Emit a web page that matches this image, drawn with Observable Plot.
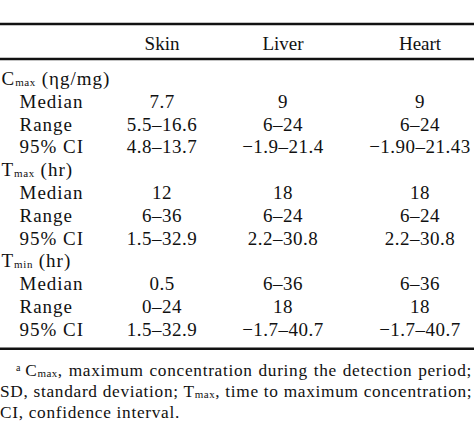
<!DOCTYPE html>
<html>
<head>
<meta charset="utf-8">
<script src="https://cdn.jsdelivr.net/npm/d3@7"></script>
<script src="https://cdn.jsdelivr.net/npm/@observablehq/plot@0.6"></script>
<style>
  html, body { margin: 0; padding: 0; background: #fff; }
  #wrap { width: 474px; background: #fff; color: #111; }
  #wrap svg { display: block; }
  .fn { font-family: "Liberation Serif", "Times New Roman", serif; font-size: 17.3px; letter-spacing: 0.7px;
        line-height: 21px; color: #111; width: 472px; }
  .fn div { text-align: justify; text-align-last: justify; white-space: nowrap; }
  .fn div.last { text-align-last: left; }
  .fn .sub { font-size: 11px; vertical-align: -1px; line-height: 0; letter-spacing: 0.5px; }
  .fn .sup { font-size: 10px; vertical-align: 5px; line-height: 0; margin-right: 4px; }
</style>
</head>
<body>
<div id="wrap"></div>
<script>
// ---- data ----
const columns = ["Skin", "Liver", "Heart"];
const groups = ["Cmax (ηg/mg)", "Tmax (hr)", "Tmin (hr)"];
const stats = ["Median", "Range", "95% CI"];
const skin  = ["7.7", "5.5–16.6", "4.8–13.7", "12", "6–36", "1.5–32.9", "0.5", "0–24", "1.5–32.9"];
const liver = ["9", "6–24", "−1.9–21.4", "18", "6–24", "2.2–30.8", "6–36", "18", "−1.7–40.7"];
const heart = ["9", "6–24", "−1.90–21.43", "18", "6–24", "2.2–30.8", "6–36", "18", "−1.7–40.7"];
const footnoteMark = "a";
const footnoteLines = [
  "Cmax, maximum concentration during the detection period;",
  "SD, standard deviation; Tmax, time to maximum concentration;",
  "CI, confidence interval."
];

// ---- layout ----
const W = 474, H = 356;
const colCenter = [161.5, 282.5, 419.5];
const groupX = 1, statX = 19;
const headerBase = 49.5, firstBase = 84.5, rowStep = 22.8;
const rowY = i => firstBase + i * rowStep;
const values = [skin, liver, heart];

const labelRows = [];
const cellRows = [];
groups.forEach((g, gi) => {
  labelRows.push({x: groupX, y: rowY(gi * 4), text: g});
  stats.forEach((s, si) => {
    const r = gi * 4 + si + 1;
    labelRows.push({x: statX, y: rowY(r), text: s});
    values.forEach((col, ci) => cellRows.push({x: colCenter[ci], y: rowY(r), text: col[gi * 3 + si]}));
  });
});
const headerRows = columns.map((c, ci) => ({x: colCenter[ci], y: headerBase, text: c}));
const nRows = groups.length * 4;
const rules = [headerBase - 26, headerBase + 9, rowY(nRows - 1) + 13];

const font = "'Liberation Serif', 'Times New Roman', serif";
const svg = Plot.plot({
  width: W, height: H,
  margin: 0,
  x: {type: "linear", domain: [0, W], range: [0, W], axis: null},
  y: {type: "linear", domain: [0, H], range: [0, H], axis: null},
  style: {fontFamily: font, background: "#fff", color: "#111"},
  marks: [
    Plot.ruleY(rules, {x1: 0, x2: W, strokeWidth: 2.6, stroke: "#111"}),
    Plot.text(headerRows, {x: "x", y: "y", text: "text", textAnchor: "middle", lineAnchor: "bottom", fontSize: 19, className: "hdr"}),
    Plot.text(labelRows, {x: "x", y: "y", text: "text", textAnchor: "start", lineAnchor: "bottom", fontSize: 19, className: "lbl"}),
    Plot.text(cellRows, {x: "x", y: "y", text: "text", textAnchor: "middle", lineAnchor: "bottom", fontSize: 19, className: "val"})
  ]
});
svg.querySelectorAll("g.lbl").forEach(g => g.setAttribute("letter-spacing", "1px"));
svg.querySelectorAll("g.val").forEach(g => g.setAttribute("letter-spacing", "0.5px"));

// subscripts (Cmax, Tmax, Tmin)
const subRe = /^([A-Z])(max|min)(.*)$/;
svg.querySelectorAll("text").forEach(t => {
  const m = (t.textContent || "").match(subRe);
  if (!m) return;
  while (t.firstChild) t.removeChild(t.firstChild);
  const ns = "http://www.w3.org/2000/svg";
  const a = document.createElementNS(ns, "tspan"); a.textContent = m[1];
  const b = document.createElementNS(ns, "tspan"); b.textContent = m[2];
  b.setAttribute("font-size", "11"); b.setAttribute("dy", "1"); b.setAttribute("letter-spacing", "0.6px");
  const c = document.createElementNS(ns, "tspan"); c.textContent = m[3];
  c.setAttribute("dy", "-1");
  t.append(a, b, c);
});

const wrap = document.getElementById("wrap");
wrap.appendChild(svg);

// footnote
const fn = document.createElement("div");
fn.className = "fn";
fn.style.marginTop = "3.5px";
footnoteLines.forEach((line, i) => {
  const d = document.createElement("div");
  if (i === footnoteLines.length - 1) d.className = "last";
  if (i === 0) {
    d.style.paddingLeft = "16px";
    const s = document.createElement("span"); s.className = "sup"; s.textContent = footnoteMark;
    d.appendChild(s);
  }
  const parts = line.split(/\b([CT])(max|min)\b/);
  for (let k = 0; k < parts.length; k++) {
    if (k % 3 !== 2) d.appendChild(document.createTextNode(parts[k]));
    else { const s = document.createElement("span"); s.className = "sub"; s.textContent = parts[k]; d.appendChild(s); }
  }
  fn.appendChild(d);
});
wrap.appendChild(fn);
</script>
</body>
</html>
